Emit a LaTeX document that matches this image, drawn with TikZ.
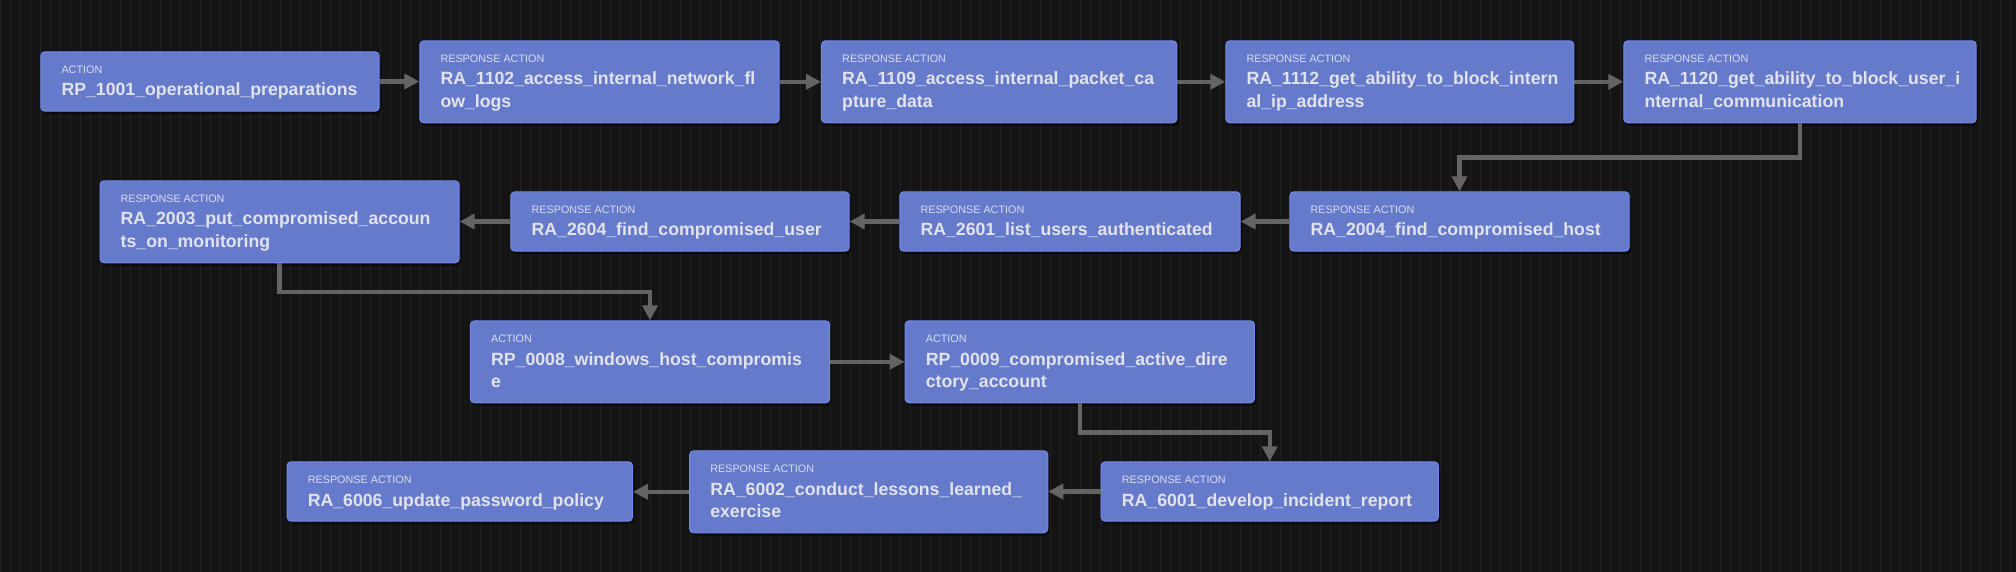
\documentclass[tikz,border=0pt]{standalone}
\usepackage{fontspec}
\setmainfont{Liberation Sans}
\usetikzlibrary{arrows.meta,calc,shadows}
\definecolor{bgc}{HTML}{141414}
\definecolor{gridc}{HTML}{222222}
\definecolor{boxfill}{HTML}{657ACB}
\definecolor{boxline}{HTML}{7489EC}
\definecolor{titlec}{HTML}{E2E3EA}
\definecolor{labelc}{HTML}{D8DCF0}
\definecolor{linkc}{HTML}{646464}
\tikzset{
  fbox/.style={draw=boxline, line width=1pt, fill=boxfill, rounded corners=4pt, inner sep=0pt,
    drop shadow={shadow xshift=2pt, shadow yshift=-3pt, fill=black, opacity=0.45}},
  flabel/.style={anchor=base west, inner sep=0pt, text=labelc, font=\fontsize{10.8}{12}\selectfont},
  ftitle/.style={anchor=base west, inner sep=0pt, text=titlec, font=\fontsize{17.7}{20}\selectfont\bfseries},
  link/.style={draw=linkc, line width=4.5pt, -{Triangle[length=15pt,width=15pt]}},
}
\newcommand\flowbox[7]{%
  \node[fbox, minimum width=#4pt, minimum height=#5pt, anchor=north west] (#1) at (#2,#3) {};
  \node[flabel] (#1-l) at ([shift={(21,22.5)}]#1.north west) {#6};
  \node[ftitle] (#1-t) at ([shift={(21,44.7)}]#1.north west) {#7};}
\newcommand\secondline[2]{%
  \node[ftitle] (#1-u) at ([shift={(21,67.4)}]#1.north west) {#2};}
\begin{document}
\begin{tikzpicture}[x=1pt,y=-1pt]
\useasboundingbox (0,0) rectangle (2016,572);
\fill[bgc] (0,0) rectangle (2016,572);
\draw[gridc, line width=0.7pt, shift={(0,4)}, step=10] (0,-10) grid (2016,580);

\flowbox{b1}{40.3}{51.3}{338.4}{59.4}{ACTION}{RP\_1001\_operational\_preparations}
\flowbox{b2}{419.3}{40.3}{359.4}{82}{RESPONSE ACTION}{RA\_1102\_access\_internal\_network\_fl}
\secondline{b2}{ow\_logs}
\flowbox{b3}{821}{40.3}{355.3}{82}{RESPONSE ACTION}{RA\_1109\_access\_internal\_packet\_ca}
\secondline{b3}{pture\_data}
\flowbox{b4}{1225.3}{40.3}{348}{82}{RESPONSE ACTION}{RA\_1112\_get\_ability\_to\_block\_intern}
\secondline{b4}{al\_ip\_address}
\flowbox{b5}{1623.3}{40.3}{352.4}{82}{RESPONSE ACTION}{RA\_1120\_get\_ability\_to\_block\_user\_i}
\secondline{b5}{nternal\_communication}
\flowbox{b6}{1289.4}{191.3}{339.3}{59.4}{RESPONSE ACTION}{RA\_2004\_find\_compromised\_host}
\flowbox{b7}{899.3}{191.3}{340.3}{59.4}{RESPONSE ACTION}{RA\_2601\_list\_users\_authenticated}
\flowbox{b8}{510.4}{191.3}{338.3}{59.4}{RESPONSE ACTION}{RA\_2604\_find\_compromised\_user}
\flowbox{b9}{99.5}{180.3}{359.2}{82}{RESPONSE ACTION}{RA\_2003\_put\_compromised\_accoun}
\secondline{b9}{ts\_on\_monitoring}
\flowbox{b10}{469.9}{320.3}{359.3}{82}{ACTION}{RP\_0008\_windows\_host\_compromis}
\secondline{b10}{e}
\flowbox{b11}{904.6}{320.3}{349.3}{82}{ACTION}{RP\_0009\_compromised\_active\_dire}
\secondline{b11}{ctory\_account}
\flowbox{b12}{1100.7}{461.3}{337.1}{59.4}{RESPONSE ACTION}{RA\_6001\_develop\_incident\_report}
\flowbox{b13}{689.1}{450.3}{358.2}{82}{RESPONSE ACTION}{RA\_6002\_conduct\_lessons\_learned\_}
\secondline{b13}{exercise}
\flowbox{b14}{286.6}{461.3}{345.4}{59.4}{RESPONSE ACTION}{RA\_6006\_update\_password\_policy}

\draw[link] (b1.east) -- (b1.east -| b2.west);
\draw[link] (b2.east) -- (b3.west);
\draw[link] (b3.east) -- (b4.west);
\draw[link] (b4.east) -- (b5.west);
\draw[link] (b5.south) |- ($(b5.south)!0.5!(b6.north)$) -| (b6.north);
\draw[link] (b6.west) -- (b7.east);
\draw[link] (b7.west) -- (b8.east);
\draw[link] (b8.west) -- (b8.west -| b9.east);
\draw[link] (b9.south) |- ($(b9.south)!0.5!(b10.north)$) -| (b10.north);
\draw[link] (b10.east) -- (b11.west);
\draw[link] (b11.south) |- ($(b11.south)!0.5!(b12.north)$) -| (b12.north);
\draw[link] (b12.west) -- (b12.west -| b13.east);
\draw[link] (b13.west) -- (b13.west -| b14.east);
\end{tikzpicture}
\end{document}
